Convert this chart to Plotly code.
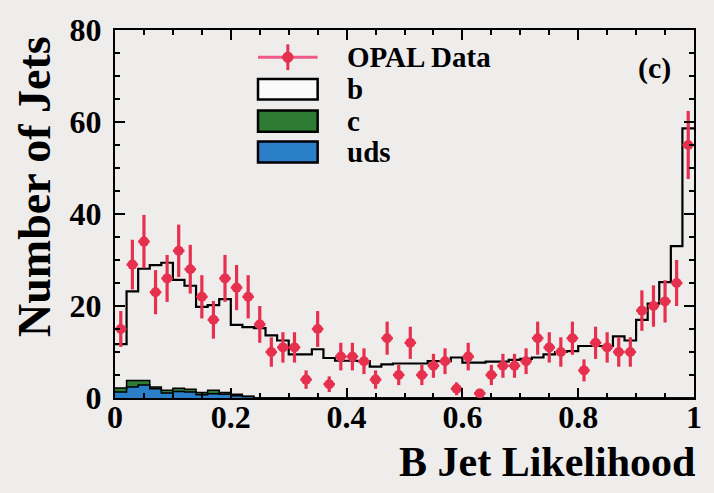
import numpy as np
import plotly.graph_objects as go

# ---- data (50 bins of B-jet likelihood, width 0.02) ----
n_bins = 50
data_counts = [15, 29, 34, 23, 26, 32, 28, 22, 17, 26,
               24, 22, 16, 10, 11, 11, 4, 15, 3, 9,
               9, 8, 4, 13, 5, 12, 5, 7, 8, 2,
               9, 1, 5, 7, 7, 8, 13, 11, 10, 13,
               6, 12, 11, 10, 10, 19, 20, 21, 25, 55]
data_errors = [3.9, 5.4, 5.8, 4.8, 5.1, 5.7, 5.3, 4.7, 4.1, 5.1,
               4.9, 4.7, 4.0, 3.2, 3.3, 3.3, 2.0, 3.9, 1.7, 3.0,
               3.0, 2.8, 2.0, 3.6, 2.2, 3.5, 2.2, 2.6, 2.8, 1.4,
               3.0, 1.0, 2.2, 2.6, 2.6, 2.8, 3.6, 3.3, 3.2, 3.6,
               2.4, 3.5, 3.3, 3.2, 3.2, 4.4, 4.5, 4.6, 5.0, 7.4]
mc_uds = [1.3, 2.4, 2.8, 2.0, 1.1, 1.4, 1.3, 0.7, 0.9, 0.8,
          0.5, 0.3] + [0.0] * 38
mc_c = [0.9, 1.4, 1.0, 0.4, 0.6, 0.7, 0.6, 0.5, 0.8, 0.4,
        0.3, 0.1] + [0.0] * 38
mc_b = [9.5, 19.4, 24.3, 26.5, 27.7, 23.6, 22.5, 18.6, 18.5, 20.3,
        15.1, 15.0, 15.2, 13.6, 12.5, 9.5, 9.5, 10.6, 8.7, 8.1,
        8.1, 8.0, 6.8, 7.3, 7.5, 7.5, 7.5, 8.0, 8.0, 8.8,
        7.7, 7.7, 7.9, 7.9, 8.3, 8.5, 8.8, 9.5, 10.0, 10.2,
        11.3, 11.3, 11.3, 13.4, 12.5, 17.0, 20.5, 25.2, 33.0, 58.6]

x_ticks = [0, 0.2, 0.4, 0.6, 0.8, 1]
x_ticklabels = ["0", "0.2", "0.4", "0.6", "0.8", "1"]
y_ticks = [0, 20, 40, 60, 80]
y_ticklabels = ["0", "20", "40", "60", "80"]

# ---- derived ----
edges = np.linspace(0, 1, n_bins + 1)
centers = 0.5 * (edges[:-1] + edges[1:])
half_w = 0.5 * (edges[1] - edges[0])
uds = np.array(mc_uds)
c_top = uds + np.array(mc_c)
tot = c_top + np.array(mc_b)

def step(v):
    return list(v) + [v[-1]]

BG = "#efecec"
RED = "#e6304e"
GREEN = "#2e7b34"
BLUE = "#2a7fc8"
FONT = "Liberation Serif"

fig = go.Figure()
fig.add_trace(go.Scatter(x=edges, y=step(uds), mode="lines", line_shape="hv",
                         line=dict(color="black", width=1.5), fill="tozeroy",
                         fillcolor=BLUE, name="uds", showlegend=False))
fig.add_trace(go.Scatter(x=edges, y=step(c_top), mode="lines", line_shape="hv",
                         line=dict(color="black", width=1.5), fill="tonexty",
                         fillcolor=GREEN, name="c", showlegend=False))
fig.add_trace(go.Scatter(x=edges, y=step(tot), mode="lines", line_shape="hv",
                         line=dict(color="black", width=2.2),
                         name="b", showlegend=False))
fig.add_trace(go.Scatter(x=centers, y=data_counts, mode="markers",
                         marker=dict(color=RED, size=10, symbol="circle"),
                         error_y=dict(type="data", array=data_errors, color=RED,
                                      thickness=3.2, width=0),
                         error_x=dict(type="constant", value=half_w, color=RED,
                                      thickness=2.5, width=0),
                         name="OPAL Data", showlegend=False))

# ---- manual legend (paper coordinates) ----
bx0, bx1 = 0.247, 0.350
tx = 0.398
shapes = []
annotations = []
ly = 0.926
shapes.append(dict(type="line", xref="paper", yref="paper", x0=bx0, x1=bx1,
                   y0=ly, y1=ly, line=dict(color="#ef5a86", width=3)))
shapes.append(dict(type="line", xref="paper", yref="paper", x0=(bx0 + bx1) / 2,
                   x1=(bx0 + bx1) / 2, y0=ly - 0.035, y1=ly + 0.035,
                   line=dict(color=RED, width=3)))
shapes.append(dict(type="circle", xref="paper", yref="paper",
                   x0=(bx0 + bx1) / 2 - 0.009, x1=(bx0 + bx1) / 2 + 0.009,
                   y0=ly - 0.014, y1=ly + 0.014, fillcolor=RED,
                   line=dict(color=RED, width=1)))
for (y0, y1, col) in [(0.811, 0.867, "#fbfafa"), (0.7235, 0.781, GREEN), (0.640, 0.697, BLUE)]:
    shapes.append(dict(type="rect", xref="paper", yref="paper", x0=bx0, x1=bx1,
                       y0=y0, y1=y1, fillcolor=col, line=dict(color="black", width=2.5)))
for (txt, yy) in [("OPAL Data", 0.926), ("b", 0.839), ("c", 0.752), ("uds", 0.668)]:
    annotations.append(dict(text="<b>%s</b>" % txt, xref="paper", yref="paper", x=tx, y=yy,
                            xanchor="left", yanchor="middle", showarrow=False,
                            font=dict(family=FONT, size=29, color="black")))
annotations.append(dict(text="<b>(c)</b>", xref="paper", yref="paper", x=0.931, y=0.896,
                        xanchor="center", yanchor="middle", showarrow=False,
                        font=dict(family=FONT, size=30, color="black")))
annotations.append(dict(text="<b>B Jet Likelihood</b>", xref="paper", yref="paper",
                        x=1.006, y=-0.175, xanchor="right", yanchor="middle", showarrow=False,
                        font=dict(family=FONT, size=42, color="black")))
annotations.append(dict(text="<b>Number of Jets</b>", xref="paper", yref="paper",
                        x=-0.140, y=0.576, xanchor="center", yanchor="middle",
                        textangle=-90, showarrow=False,
                        font=dict(family=FONT, size=46, color="black")))

fig.update_layout(
    width=714, height=493,
    margin=dict(l=115, r=19, t=23, b=95),
    paper_bgcolor=BG, plot_bgcolor=BG,
    showlegend=False,
    shapes=shapes, annotations=annotations,
    font=dict(family=FONT, color="black"),
)
fig.update_xaxes(range=[0, 1], tickvals=x_ticks, ticktext=["<b>%s</b>" % t for t in x_ticklabels],
                 ticks="inside", ticklen=10, tickwidth=1.5, tickcolor="black",
                 minor=dict(dtick=0.05, tick0=0, ticks="inside", ticklen=5, tickcolor="black"),
                 showline=True, linecolor="black", linewidth=2, mirror="allticks",
                 showgrid=False, zeroline=False, ticklabelstandoff=-10,
                 tickfont=dict(family=FONT, size=32, color="black"))
fig.update_yaxes(range=[0, 80], tickvals=y_ticks, ticktext=["<b>%s</b>" % t for t in y_ticklabels],
                 ticks="inside", ticklen=10, tickwidth=1.5, tickcolor="black",
                 minor=dict(dtick=5, tick0=0, ticks="inside", ticklen=5, tickcolor="black"),
                 showline=True, linecolor="black", linewidth=2, mirror="allticks",
                 showgrid=False, zeroline=False, ticklabelstandoff=5,
                 tickfont=dict(family=FONT, size=32, color="black"))

fig.write_html("out.html", config={"displayModeBar": False},
               post_script="document.body.style.margin='0px';document.body.style.background='%s';" % BG)
